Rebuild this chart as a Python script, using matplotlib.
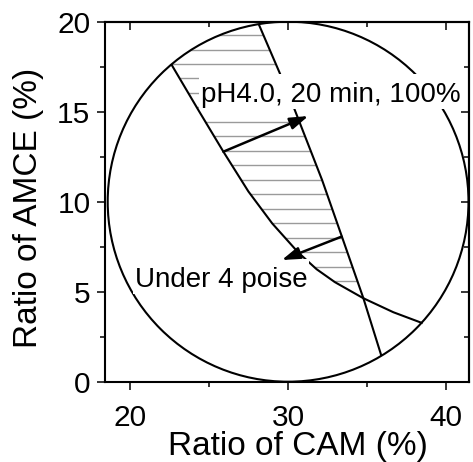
import numpy as np
import matplotlib
matplotlib.use("Agg")
import matplotlib.pyplot as plt
from matplotlib.patches import Ellipse, Rectangle, FancyArrowPatch
from matplotlib.transforms import IdentityTransform
from matplotlib.ticker import MultipleLocator

plt.rcParams["font.family"] = ["Liberation Sans", "DejaVu Sans"]

# composition window (CAM %, AMCE %) drawn as an ellipse
cam_range = (18.6, 41.4)
amce_range = (0.0, 20.0)

# left boundary of the shaded region (curved)
bound1_cam  = [22.65, 24.33, 25.91, 27.49, 29.00, 30.64, 31.80, 32.96, 34.75, 36.65, 38.44]
bound1_amce = [17.59, 15.09, 12.78, 10.57, 8.79, 7.18, 6.25, 5.53, 4.64, 3.86, 3.27]

# right boundary of the shaded region
bound2_cam  = [28.16, 29.47, 30.38, 32.15, 33.40, 34.76, 35.88]
bound2_amce = [19.83, 17.15, 15.19, 11.20, 8.06, 4.63, 1.48]

# annotation arrows: tail -> tip
arrow_tail = [(25.91, 12.78), (33.38, 8.06)]
arrow_tip  = [(31.28, 14.76), (29.60, 6.76)]

INK = "black"
HATCH = "#9a9a9a"

fig = plt.figure(figsize=(4.73, 4.62), dpi=100)
ax = fig.add_axes([0.222, 0.1738, 0.7685, 0.7792])
ax.set_xlim(18.43, 41.40)
ax.set_ylim(0, 20)

# ellipse outline
cx = (cam_range[0] + cam_range[1]) / 2
cy = (amce_range[0] + amce_range[1]) / 2
ell = Ellipse((cx, cy), cam_range[1] - cam_range[0], amce_range[1] - amce_range[0],
              fill=False, ec=INK, lw=1.5, zorder=2)
ax.add_patch(ell)

# horizontal hatching between the two boundaries, clipped to the ellipse
hatch_y = np.arange(5.59, 19.5, 0.804)
xl = np.interp(hatch_y, bound1_amce[::-1], bound1_cam[::-1])
xr = np.interp(hatch_y, bound2_amce[::-1], bound2_cam[::-1])
hl = ax.hlines(hatch_y, xl, xr, colors=HATCH, lw=1.0, zorder=1)
hl.set_clip_path(ell)

ax.plot(bound1_cam, bound1_amce, color=INK, lw=1.5, zorder=2,
        solid_joinstyle="round")
ax.plot(bound2_cam, bound2_amce, color=INK, lw=1.5, zorder=2,
        solid_joinstyle="round")

t1 = ax.text(24.5, 15.56, "pH4.0, 20 min, 100%", fontsize=20,
             ha="left", va="baseline", zorder=4)
t2 = ax.text(20.3, 5.28, "Under 4 poise", fontsize=20,
             ha="left", va="baseline", zorder=4)

for tail, tip in zip(arrow_tail, arrow_tip):
    ax.add_patch(FancyArrowPatch(tail, tip,
                                 arrowstyle="-|>,head_length=0.55,head_width=0.18",
                                 mutation_scale=20, lw=1.8, color=INK,
                                 shrinkA=0, shrinkB=0, zorder=5))

# axes, ticks
ax.xaxis.set_major_locator(MultipleLocator(10))
ax.xaxis.set_minor_locator(MultipleLocator(5))
ax.yaxis.set_major_locator(MultipleLocator(5))
ax.yaxis.set_minor_locator(MultipleLocator(2.5))
for s in ax.spines.values():
    s.set_linewidth(1.5)
ax.tick_params(which="major", direction="out", length=6, width=1.1,
               labelsize=21.5)
ax.tick_params(which="minor", direction="out", length=3.5, width=1.1)
ax.tick_params(axis="x", which="major", pad=10)
ax.tick_params(axis="y", which="major", pad=4.5)

top = ax.secondary_xaxis("top")
top.xaxis.set_major_locator(MultipleLocator(10))
top.xaxis.set_minor_locator(MultipleLocator(5))
right = ax.secondary_yaxis("right")
right.yaxis.set_major_locator(MultipleLocator(5))
right.yaxis.set_minor_locator(MultipleLocator(2.5))
for sec in (top, right):
    sec.tick_params(which="major", direction="in", length=6, width=1.1)
    sec.tick_params(which="minor", direction="in", length=3.5, width=1.1)
    sec.tick_params(labeltop=False, labelright=False)
    for s in sec.spines.values():
        s.set_linewidth(1.5)

ax.set_xlabel("Ratio of CAM (%)", fontsize=24)
ax.set_ylabel("Ratio of AMCE (%)", fontsize=24)
ax.xaxis.set_label_coords(0.531, -0.138)
ax.yaxis.set_label_coords(-0.169, 0.482)

# white masks behind the labels, sized from the rendered text
fig.canvas.draw()
for t in (t1, t2):
    bb = t.get_window_extent()
    mask = Rectangle((bb.x0 - 2, bb.y0 - 1), bb.width + 4, bb.height + 9,
                     transform=IdentityTransform(), fc="white", ec="none",
                     zorder=3)
    ax.add_patch(mask)

fig.savefig("out.png", dpi=100, facecolor="white")
